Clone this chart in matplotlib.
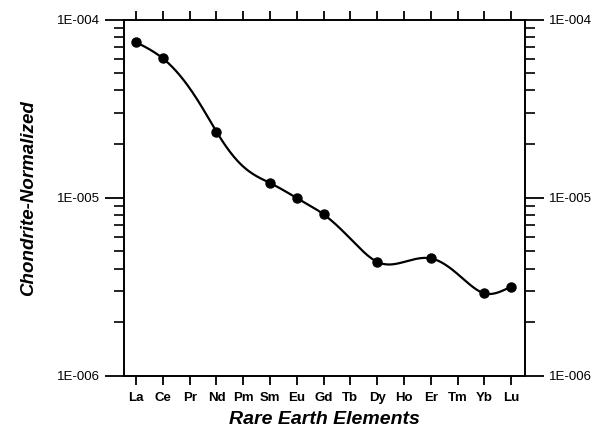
import numpy as np
import matplotlib
matplotlib.use('Agg')
import matplotlib.pyplot as plt
from matplotlib.ticker import FixedLocator, FuncFormatter, LogLocator, NullFormatter

plt.rcParams['font.family'] = ['Liberation Sans', 'DejaVu Sans']

# REE categories on the x axis
elements = ['La', 'Ce', 'Pr', 'Nd', 'Pm', 'Sm', 'Eu', 'Gd', 'Tb', 'Dy', 'Ho', 'Er', 'Tm', 'Yb', 'Lu']

# measured (chondrite-normalized) values
sample_elements = ['La', 'Ce', 'Nd', 'Sm', 'Eu', 'Gd', 'Dy', 'Er', 'Yb', 'Lu']
sample_values = [7.45e-5, 6.05e-5, 2.35e-5, 1.21e-5, 9.97e-6, 8.07e-6, 4.37e-6, 4.57e-6, 2.91e-6, 3.17e-6]

y_ticks = [1e-6, 1e-5, 1e-4]


def natural_spline(x, y, xs):
    # plain natural cubic spline, used only to draw the smooth connecting curve
    x = np.asarray(x, float)
    y = np.asarray(y, float)
    n = len(x)
    h = np.diff(x)
    A = np.zeros((n, n))
    b = np.zeros(n)
    A[0, 0] = 1
    A[-1, -1] = 1
    for i in range(1, n - 1):
        A[i, i - 1] = h[i - 1]
        A[i, i] = 2 * (h[i - 1] + h[i])
        A[i, i + 1] = h[i]
        b[i] = 3 * ((y[i + 1] - y[i]) / h[i] - (y[i] - y[i - 1]) / h[i - 1])
    c = np.linalg.solve(A, b)
    out = np.empty_like(xs)
    for k, xv in enumerate(xs):
        i = min(max(np.searchsorted(x, xv) - 1, 0), n - 2)
        dx = xv - x[i]
        bi = (y[i + 1] - y[i]) / h[i] - h[i] * (2 * c[i] + c[i + 1]) / 3
        di = (c[i + 1] - c[i]) / (3 * h[i])
        out[k] = y[i] + bi * dx + c[i] * dx ** 2 + di * dx ** 3
    return out


pos = {e: i + 1 for i, e in enumerate(elements)}
xp = np.array([pos[e] for e in sample_elements], float)

# spline in linear value space (gives the dip between Dy and Er)
xs = np.linspace(xp[0], xp[-1], 400)
ys = natural_spline(xp, sample_values, xs)

fig = plt.figure(figsize=(6.07, 4.34), dpi=100)
ax = fig.add_axes([123.5 / 607, 1 - 376 / 434, (525 - 123.5) / 607, (376 - 19.5) / 434])

ax.plot(xs, ys, color='black', lw=1.6, zorder=2)
ax.plot(xp, sample_values, 'o', color='black', ms=6.5, zorder=3)

ax.set_yscale('log')
ax.set_ylim(1e-6, 1e-4)
ax.set_xlim(0.53, 15.52)

ax.xaxis.set_major_locator(FixedLocator(range(1, len(elements) + 1)))
ax.set_xticklabels(elements, fontsize=9.5, fontweight='bold')
ax.yaxis.set_major_locator(FixedLocator(y_ticks))
ax.yaxis.set_major_formatter(FuncFormatter(lambda v, p: '1E-%03d' % round(-np.log10(v))))
ax.yaxis.set_minor_locator(LogLocator(base=10, subs=np.arange(2, 10)))
ax.yaxis.set_minor_formatter(NullFormatter())

for s in ax.spines.values():
    s.set_linewidth(1.4)

ax.tick_params(axis='x', which='major', direction='out', length=6.5, width=1.3,
               top=True, bottom=True, pad=5)
ax.tick_params(axis='x', which='minor', bottom=False, top=False)
ax.tick_params(axis='y', which='major', direction='out', length=14, width=1.3,
               left=True, right=True, labelleft=True, labelright=True, labelsize=9.5, pad=3)
ax.tick_params(axis='y', which='minor', direction='out', length=7, width=1.2,
               left=True, right=True)

ax.set_xlabel('Rare Earth Elements', fontsize=14, fontweight='bold', style='italic', labelpad=5)
ax.set_ylabel('Chondrite-Normalized', fontsize=13.5, fontweight='bold', style='italic', labelpad=14)

fig.savefig('out.png', dpi=100)
